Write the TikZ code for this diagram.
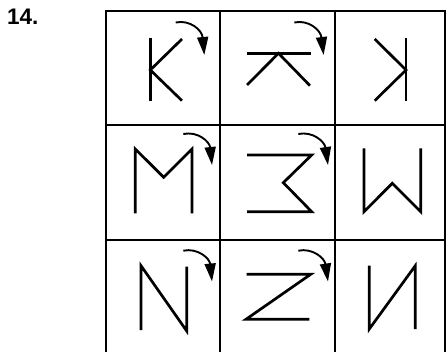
\documentclass[tikz,border=0pt]{standalone}
\usepackage{fontspec}
\setmainfont{Liberation Sans}
\usetikzlibrary{arrows.meta}
\begin{document}
\begin{tikzpicture}[x=1pt,y=-1pt,
  gridline/.style={line width=1.7pt},
  glyph/.style={line width=2.7pt,line join=miter,line cap=butt},
  turn/.style={line width=1.9pt,-{Triangle[length=18pt,width=11pt]}}]
\useasboundingbox (0,0) rectangle (446,352);
\node[anchor=base west,inner sep=0pt,font=\fontsize{22.5}{26}\selectfont\bfseries] (num) at (7,25) {14.};
% grid
\draw[gridline] (105.7,352) -- (105.7,10.7) -- (445,10.7) -- (445,352);
\draw[gridline] (220.3,10.7) -- (220.3,352);
\draw[gridline] (335,10.7) -- (335,352);
\draw[gridline] (105.7,125.3) -- (445,125.3);
\draw[gridline] (105.7,239.7) -- (445,239.7);
% row 1
\draw[glyph] (150.3,37.7) -- (150.3,100.7);
\draw[glyph] (182,39) -- (150.3,70) -- (182,100.7);
\draw[turn] (175.7,22.5) .. controls (190,19.5) and (202,30) .. (204.3,55);
\draw[glyph] (247,53.3) -- (311,53.3);
\draw[glyph] (247,85) -- (278.5,53.3) -- (310,85.7);
\draw[turn] (294.3,22.5) .. controls (308.6,19.5) and (320.6,30) .. (323.6,55);
\draw[glyph] (406,37.7) -- (406,100.7);
\draw[glyph] (374.7,39) -- (406,70) -- (374.7,100.7);
% row 2
\draw[glyph] (135.3,213.3) -- (135.3,149) -- (163.7,177.3) -- (192,149) -- (192,213.3);
\draw[turn] (183.3,134) .. controls (197.6,131) and (209.6,141.5) .. (212,165);
\draw[glyph] (247,155) -- (311.7,155) -- (283.3,182.7) -- (311.7,211.7) -- (247,211.7);
\draw[turn] (298.3,134) .. controls (312.6,131) and (324.6,141.5) .. (328,165);
\draw[glyph] (364,148.3) -- (364,211.7) -- (392.3,183.3) -- (420.7,211.7) -- (420.7,148.3);
% row 3
\draw[glyph] (141,330) -- (141,265.7) -- (186.7,331) -- (186.7,266.7);
\draw[turn] (183.3,250.7) .. controls (197.6,247.7) and (209.6,258.2) .. (212,281.5);
\draw[glyph] (246.7,274.3) -- (310.7,274.3) -- (246,319.3) -- (309.3,319.3);
\draw[turn] (298.3,250.7) .. controls (312.6,247.7) and (324.6,258.2) .. (328,281.5);
\draw[glyph] (369.3,265.7) -- (369.3,329) -- (415.3,265.7) -- (415.3,329);
\end{tikzpicture}
\end{document}
